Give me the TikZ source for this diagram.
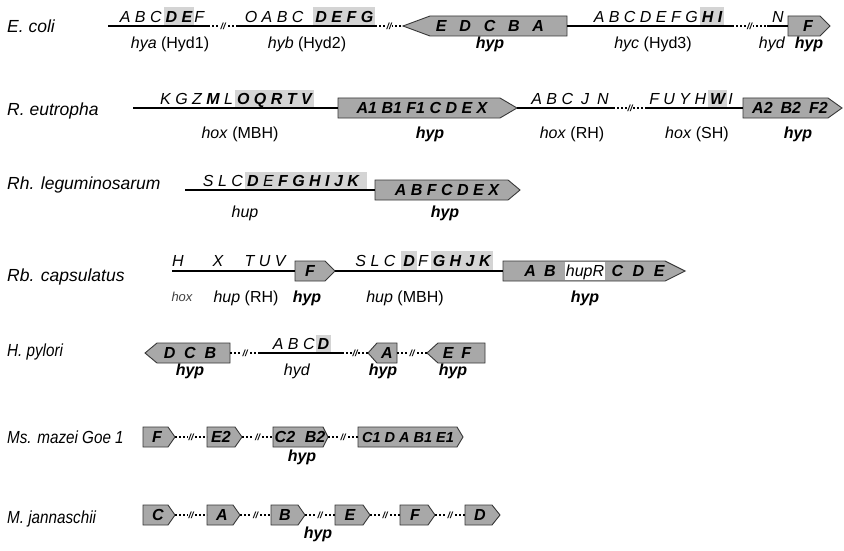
\documentclass[tikz,border=0pt]{standalone}
\usepackage{fontspec}
\usepackage{graphicx}
\setmainfont{Liberation Sans}
\definecolor{boxgray}{RGB}{168,168,168}
\definecolor{hlgray}{RGB}{212,212,212}
\newcommand{\hlg}[1]{{\setlength{\fboxsep}{0pt}\colorbox{hlgray}{\rule[-3.5pt]{0pt}{18.5pt}\hspace{2pt}#1\hspace{2pt}}}}
\newcommand{\gsp}{\hspace{0.8em}}
\newcommand{\narrow}[1]{\scalebox{0.87}[1]{#1}}
\newcommand{\geneR}[7]{%
  \draw[genebox] (#2,#5-10) -- (#3,#5-10) -- (#4,#5) -- (#3,#5+10) -- (#2,#5+10) -- cycle;
  \coordinate (#1w) at (#2,#5);
  \coordinate (#1e) at (#4,#5);
  \node[bt] (#1) at (#6,#5+5.5) {#7};
}
\newcommand{\geneL}[7]{%
  \draw[genebox] (#2,#5) -- (#3,#5-10) -- (#4,#5-10) -- (#4,#5+10) -- (#3,#5+10) -- cycle;
  \coordinate (#1w) at (#2,#5);
  \coordinate (#1e) at (#4,#5);
  \node[bt] (#1) at (#6,#5+5.5) {#7};
}
\tikzset{
  species/.style={font=\fontsize{17.5}{20}\selectfont\itshape, anchor=base west, inner sep=0},
  gl/.style={font=\fontsize{16}{18}\selectfont\itshape, anchor=base, inner sep=0},
  lab/.style={font=\fontsize{16}{18}\selectfont, anchor=base, inner sep=0},
  bt/.style={font=\fontsize{16}{18}\selectfont\bfseries\itshape, anchor=base, inner sep=0},
  genebox/.style={fill=boxgray, draw=black!78, line width=0.9pt, line join=miter},
  locus/.style={line width=1.9pt},
  dotlink/.style={line width=1.8pt, dash pattern=on 1.8pt off 2.2pt},
  brkmark/.style={fill=white, inner sep=0.6pt, font=\fontsize{9}{9}\selectfont\bfseries\itshape},
}
\begin{document}
\begin{tikzpicture}[x=1pt, y=-1pt]
\useasboundingbox (0,0) rectangle (844,551);
\fill[white] (0,0) rectangle (844,551);

% ---------- Row 1: E. coli
\node[species] (sp1) at (7,32.5) {E. coli};
\node[gl] (e1g1) at (162,22.5) {A B C\hspace{2pt}\hlg{\textbf{D E}}F};
\node[gl] (e1g2) at (310,22.5) {O A B C\hspace{10pt}\hlg{\textbf{D E F G}}};
\node[gl] (e1g3) at (659,22.5) {A B C D E F G\hspace{2pt}\hlg{\textbf{H I}}};
\node[gl] (e1g4) at (778,22.5) {N};
\coordinate (a1) at (108,26);
\coordinate (a2) at (208,26);
\coordinate (a3) at (238,26);
\coordinate (a4) at (375,26);
\coordinate (a5) at (732,26);
\coordinate (a6) at (767,26);
\geneL{eh}{403}{430}{567}{26}{490}{E\gsp D\gsp C\gsp B\gsp A}
\geneR{ef}{788}{820}{830}{26}{808}{F}
\draw[locus] (a1) -- (a2);
\draw[dotlink] (a2) -- node[brkmark] (k1) {//} (a3);
\draw[locus] (a3) -- (a4);
\draw[dotlink] (a4) -- node[brkmark] (k2) {//} (ehw);
\draw[locus] (ehe) -- (a5);
\draw[dotlink] (a5) -- node[brkmark] (k3) {//} (a6);
\draw[locus] (a6) -- (efw);
\node[lab] (l1a) at (170,49) {\textit{hya} (Hyd1)};
\node[lab] (l1b) at (307,49) {\textit{hyb} (Hyd2)};
\node[lab] (l1c) at (490,49) {\textbf{\textit{hyp}}};
\node[lab] (l1d) at (653,49) {\textit{hyc} (Hyd3)};
\node[lab] (l1e) at (772,49) {\textit{hyd}};
\node[lab] (l1f) at (809,49) {\textbf{\textit{hyp}}};

% ---------- Row 2: R. eutropha
\node[species] (sp2) at (7,115) {R. eutropha};
\node[gl] (e2g1) at (237,104.5) {K G Z \textbf{M} L\hspace{2pt}\hlg{\textbf{O Q R T V}}};
\node[gl] (e2g2) at (570,104.5) {A B C\hspace{8pt}J\hspace{8pt}N};
\node[gl] (e2g3) at (691,104.5) {F U Y H\hspace{2pt}\hlg{\textbf{W}}\hspace{1pt}I};
\coordinate (b1) at (133,108);
\coordinate (b2) at (613,108);
\coordinate (b3) at (647,108);
\geneR{rh1}{338}{500}{517}{108}{422}{A1 B1 F1 C D E X}
\geneR{rh2}{743}{828}{842}{108}{790}{A2\hspace{.5em}B2\hspace{.5em}F2}
\draw[locus] (b1) -- (rh1w);
\draw[locus] (rh1e) -- (b2);
\draw[dotlink] (b2) -- node[brkmark] (k4) {//} (b3);
\draw[locus] (b3) -- (rh2w);
\node[lab] (l2a) at (240,138) {\textit{hox} (MBH)};
\node[lab] (l2b) at (430,138) {\textbf{\textit{hyp}}};
\node[lab] (l2c) at (572,138) {\textit{hox} (RH)};
\node[lab] (l2d) at (697,138) {\textit{hox} (SH)};
\node[lab] (l2e) at (798,138) {\textbf{\textit{hyp}}};

% ---------- Row 3: Rh. leguminosarum
\node[species] (sp3) at (7,189) {Rh. leguminosarum};
\node[gl] (e3g1) at (285,186.5) {S L C\hspace{2pt}\hlg{\textbf{D} E \textbf{F G H I J K}\hspace{6pt}}};
\coordinate (c1) at (185,190);
\geneR{rl}{375}{508}{520}{190}{447}{A B F C D E X}
\draw[locus] (c1) -- (rlw);
\node[lab] (l3a) at (245,217) {\textit{hup}};
\node[lab] (l3b) at (445,217) {\textbf{\textit{hyp}}};

% ---------- Row 4: Rb. capsulatus
\node[species] (sp4) at (7,281) {Rb. capsulatus};
\node[gl] (e4g1) at (178,266) {H};
\node[gl] (e4g2) at (218,266) {X};
\node[gl] (e4g3) at (265,266) {T U V};
\node[gl] (e4g4) at (424,266) {S L C\hspace{6pt}\hlg{\textbf{D}}\hspace{1pt}F\hspace{3pt}\hlg{\textbf{G H J K}}};
\coordinate (d1) at (172,271);
\geneR{rbF}{295}{325}{335}{271}{310}{F}
\geneR{rb}{503}{665}{685}{271}{540}{A\hspace{.5em}B}
\fill[white] (565,261.6) rectangle (605,280.4);
\node[gl] (rbR) at (585,276.5) {hupR};
\node[bt] (rbCDE) at (638,276.5) {C\hspace{.6em}D\hspace{.6em}E};
\draw[locus] (d1) -- (rbFw);
\draw[locus] (rbFe) -- (rbw);
\node[lab, font=\fontsize{13}{15}\selectfont\itshape, text=black!75] (l4a) at (182,301) {hox};
\node[lab] (l4b) at (246,302) {\textit{hup} (RH)};
\node[lab] (l4c) at (307,302) {\textbf{\textit{hyp}}};
\node[lab] (l4d) at (405,302) {\textit{hup} (MBH)};
\node[lab] (l4e) at (585,302) {\textbf{\textit{hyp}}};

% ---------- Row 5: H. pylori
\node[species] (sp5) at (7,356) {\narrow{H. pylori}};
\node[gl] (e5g1) at (302,349.5) {A B C\hspace{1pt}\hlg{\textbf{D}}};
\coordinate (f1) at (260,353);
\coordinate (f2) at (342,353);
\geneL{hp1}{145}{157}{230}{353}{190}{D\hspace{.55em}C\hspace{.55em}B}
\geneL{hp2}{368}{377}{397}{353}{387}{A}
\geneL{hp3}{427}{438}{485}{353}{457}{E\hspace{.5em}F}
\draw[dotlink] (hp1e) -- node[brkmark] (k5) {//} (f1);
\draw[locus] (f1) -- (f2);
\draw[dotlink] (f2) -- node[brkmark] (k6) {//} (hp2w);
\draw[dotlink] (hp2e) -- node[brkmark] (k7) {//} (hp3w);
\node[lab] (l5a) at (190,375) {\textbf{\textit{hyp}}};
\node[lab] (l5b) at (297,375) {\textit{hyd}};
\node[lab] (l5c) at (383,375) {\textbf{\textit{hyp}}};
\node[lab] (l5d) at (453,375) {\textbf{\textit{hyp}}};

% ---------- Row 6: Ms. mazei Goe 1
\node[species] (sp6) at (7,443) {\narrow{Ms. mazei Goe 1}};
\geneR{mm1}{143}{168}{175}{437}{157}{F}
\geneR{mm2}{207}{235}{242}{437}{221}{E2}
\geneR{mm3}{273}{323}{328}{437}{300}{C2\hspace{.6em}B2}
\geneR{mm4}{358}{457}{463}{437}{408}{\fontsize{14.5}{16}\selectfont C1 D A B1 E1}
\draw[dotlink] (mm1e) -- node[brkmark] (k8) {//} (mm2w);
\draw[dotlink] (mm2e) -- node[brkmark] (k9) {//} (mm3w);
\draw[dotlink] (mm3e) -- node[brkmark] (k10) {//} (mm4w);
\node[lab] (l6a) at (302,461) {\textbf{\textit{hyp}}};

% ---------- Row 7: M. jannaschii
\node[species] (sp7) at (7,523) {\narrow{M. jannaschii}};
\geneR{mj1}{143}{168}{175}{515}{158}{C}
\geneR{mj2}{207}{233}{240}{515}{222}{A}
\geneR{mj3}{271}{298}{305}{515}{285}{B}
\geneR{mj4}{335}{363}{370}{515}{350}{E}
\geneR{mj5}{400}{428}{435}{515}{415}{F}
\geneR{mj6}{465}{492}{500}{515}{480}{D}
\draw[dotlink] (mj1e) -- node[brkmark] (k11) {//} (mj2w);
\draw[dotlink] (mj2e) -- node[brkmark] (k12) {//} (mj3w);
\draw[dotlink] (mj3e) -- node[brkmark] (k13) {//} (mj4w);
\draw[dotlink] (mj4e) -- node[brkmark] (k14) {//} (mj5w);
\draw[dotlink] (mj5e) -- node[brkmark] (k15) {//} (mj6w);
\node[lab] (l7a) at (318,538) {\textbf{\textit{hyp}}};
\end{tikzpicture}
\end{document}
